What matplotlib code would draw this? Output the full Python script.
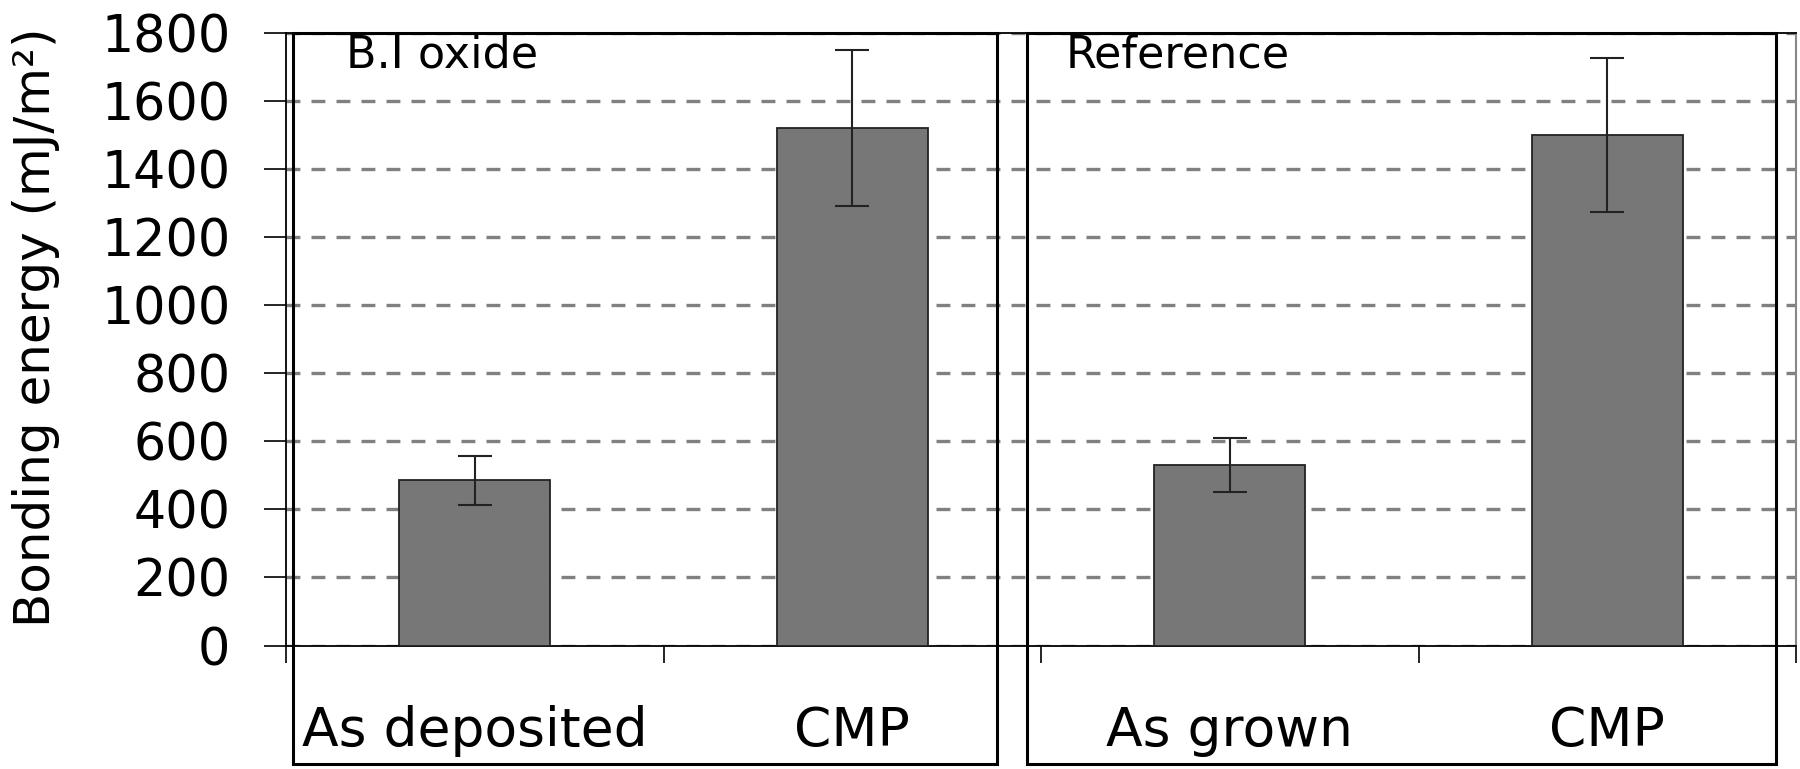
import matplotlib
matplotlib.use('Agg')
import matplotlib.pyplot as plt
from matplotlib.patches import Rectangle
import numpy as np

# 데이터: 그림에서 읽은 값
categories = ['As deposited', 'CMP', 'As grown', 'CMP']
energy = [485, 1520, 530, 1501]
energy_err = [72, 229, 79, 226]
panel_names = ['B.I oxide', 'Reference']
y_ticks = [0, 200, 400, 600, 800, 1000, 1200, 1400, 1600, 1800]

plt.rcParams['font.family'] = 'DejaVu Sans'
plt.rcParams['lines.scale_dashes'] = False

W, H = 1800, 769
fig = plt.figure(figsize=(W / 100, H / 100), dpi=100)


def fx(px):
    return px / W


def fy(py):
    # 위에서부터 픽셀 -> figure 비율
    return 1 - py / H


ax = fig.add_axes([fx(286), fy(645.5), fx(1796) - fx(286), fy(33) - fy(645.5)])

x = np.arange(len(categories)) + 0.5
ax.bar(x, energy, width=0.4, color='#777777', edgecolor='#222222', linewidth=1.3, zorder=3)
ax.errorbar(x, energy, yerr=energy_err, fmt='none', ecolor='#222222', elinewidth=1.5,
            capsize=12, capthick=1.5, zorder=4)

ax.set_xlim(0, len(categories))
ax.set_ylim(0, 1800)
ax.set_yticks(y_ticks)
ax.set_yticklabels([str(v) for v in y_ticks])
ax.tick_params(axis='y', direction='out', length=16, width=1.2, pad=24, labelsize=36.5)

# 범주 경계에 바깥쪽 눈금, 라벨은 중앙에
ax.set_xticks(x)
ax.set_xticklabels(categories)
ax.set_xticks(np.arange(len(categories) + 1), minor=True)
ax.tick_params(axis='x', which='major', length=0, pad=43, labelsize=38.5)
ax.tick_params(axis='x', which='minor', direction='out', length=12, width=1.2)

ax.grid(axis='y', color='#808080', linewidth=2.4, linestyle=(0, (10, 8)), zorder=1)
ax.set_axisbelow(True)

for side in ['left', 'bottom', 'top']:
    ax.spines[side].set_linewidth(1.3)
    ax.spines[side].set_color('black')
ax.spines['right'].set_color('#888888')
ax.spines['right'].set_linewidth(1.5)

ax.set_ylabel('Bonding energy (mJ/m²)', fontsize=36)
ax.yaxis.set_label_coords(-0.1497, 0.519)

# 패널 상자 두 개
boxes = [(293, 997), (1027, 1776)]
for (x0, x1), name in zip(boxes, panel_names):
    fig.add_artist(Rectangle((fx(x0), fy(764)), fx(x1) - fx(x0), fy(33) - fy(764),
                             transform=fig.transFigure, fill=False,
                             edgecolor='black', linewidth=2.2, zorder=5))
fig.text(fx(346), fy(68), panel_names[0], fontsize=32, va='baseline', ha='left')
fig.text(fx(1066), fy(68), panel_names[1], fontsize=32, va='baseline', ha='left')

fig.savefig('out.png', dpi=100)
